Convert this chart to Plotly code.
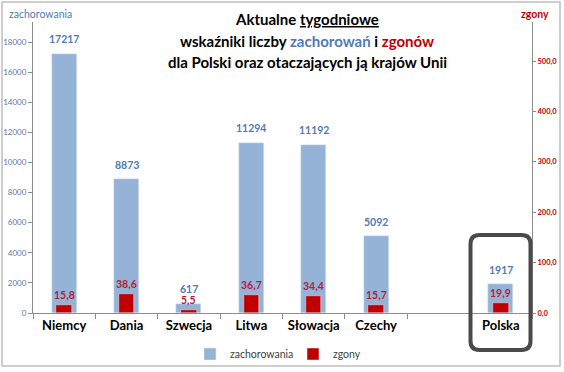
import plotly.graph_objects as go

# ---- data ----
countries = ["Niemcy", "Dania", "Szwecja", "Litwa", "Słowacja", "Czechy", " ", "Polska"]
cases = [17217, 8873, 617, 11294, 11192, 5092, None, 1917]
deaths = [15.8, 38.6, 5.5, 36.7, 34.4, 15.7, None, 19.9]
series_names = ["zachorowania", "zgony"]

case_text = ["" if v is None else f"{v:d}" for v in cases]
death_text = ["" if v is None else f"{v:.1f}".replace(".", ",") for v in deaths]

BLUE_BAR = "#95B3D7"
BLUE_TXT = "#4F7BB5"
RED_BAR = "#C00000"
RED_TXT = "#B51D3A"
FONT = "Lato, Carlito, Calibri, sans-serif"

W, H = 564, 372
L, R, T, B = 33, 32, 22, 59
PW, PH = W - L - R, H - T - B


def px(x):
    return (x - L) / PW


def py(y):
    return (H - B - y) / PH


fig = go.Figure()
fig.add_trace(go.Bar(
    x=countries, y=cases, name=series_names[0], marker_color=BLUE_BAR,
    width=0.4, yaxis="y",
))
fig.add_trace(go.Bar(
    x=countries, y=deaths, name=series_names[1], marker_color=RED_BAR,
    width=0.25, yaxis="y2",
))

annotations = []
# value labels, positioned from the data through the axes
for c, v, t in zip(countries, cases, case_text):
    if v is None:
        continue
    annotations.append(dict(
        x=c, y=v, xref="x", yref="y", text=f"<b>{t}</b>", showarrow=False,
        xanchor="center", yanchor="middle", yshift=14.5,
        font=dict(family=FONT, size=10.5, color=BLUE_TXT)))
for c, v, t in zip(countries, deaths, death_text):
    if v is None:
        continue
    annotations.append(dict(
        x=c, y=v, xref="x", yref="y2", text=f"<b>{t}</b>", showarrow=False,
        xanchor="center", yanchor="middle", yshift=10,
        font=dict(family=FONT, size=10.5, color=RED_TXT)))

# rounded box around Polska
x0, x1, y0, y1, r = px(470.5), px(530.5), py(235), py(350), 9
rx, ry = r / PW, r / PH
path = (f"M {x0+rx},{y0} L {x1-rx},{y0} Q {x1},{y0} {x1},{y0-ry} "
        f"L {x1},{y1+ry} Q {x1},{y1} {x1-rx},{y1} "
        f"L {x0+rx},{y1} Q {x0},{y1} {x0},{y1+ry} "
        f"L {x0},{y0-ry} Q {x0},{y0} {x0+rx},{y0} Z")

shapes = [
    dict(type="rect", xref="paper", yref="paper",
         x0=px(2), x1=px(560), y0=py(366), y1=py(2),
         line=dict(color="#BFBFBF", width=1.5), layer="below"),
    dict(type="path", xref="paper", yref="paper", path=path,
         line=dict(color="#4A4A4A", width=4)),
]

title_lines = [
    "<b>Aktualne <u>tygodniowe</u></b>",
    f"<b>wskaźniki liczby <span style='color:{BLUE_TXT}'>zachorowań</span> i "
    f"<span style='color:{RED_BAR}'>zgonów</span></b>",
    "<b>dla Polski oraz otaczających ją krajów Unii</b>",
]
title_y = [19, 41, 62]
annotations += [
    dict(text=t, xref="paper", yref="paper", x=px(307), y=py(yy),
         xanchor="center", yanchor="middle", showarrow=False,
         font=dict(family=FONT, size=15, color="#000000"))
    for t, yy in zip(title_lines, title_y)
]
annotations += [
    dict(text="zachorowania", xref="paper", yref="paper", x=px(40), y=py(14),
         xanchor="center", yanchor="middle", showarrow=False,
         font=dict(family=FONT, size=10.5, color=BLUE_TXT)),
    dict(text="<b>zgony</b>", xref="paper", yref="paper", x=px(535), y=py(14),
         xanchor="center", yanchor="middle", showarrow=False,
         font=dict(family=FONT, size=10.5, color=RED_BAR)),
]

fig.update_layout(
    width=W, height=H,
    margin=dict(l=L, r=R, t=T, b=B, pad=0, autoexpand=False),
    paper_bgcolor="white", plot_bgcolor="white",
    barmode="overlay", bargap=0,
    separators=", ",
    showlegend=True,
    legend=dict(orientation="h", x=px(293), xanchor="center", y=py(354),
                yanchor="middle", font=dict(family=FONT, size=10.5, color="#404040"),
                itemwidth=30, entrywidth=58, bgcolor="rgba(0,0,0,0)"),
    xaxis=dict(
        categoryorder="array", categoryarray=countries,
        showline=True, linecolor="#8C8C8C", linewidth=1,
        ticks="outside", tickson="boundaries", ticklen=5, tickcolor="#8C8C8C",
        tickangle=0, automargin=False,
        tickfont=dict(family=FONT, size=13, color="#000000", weight="bold"),
        showgrid=False, zeroline=False, fixedrange=True,
    ),
    yaxis=dict(
        range=[0, 19330], dtick=2000, tickformat="d", automargin=False,
        showline=True, linecolor="#8C8C8C", linewidth=1,
        ticks="outside", ticklen=4, tickcolor="#8C8C8C",
        tickfont=dict(family=FONT, size=8, color="#5A78A8"),
        showgrid=False, zeroline=False,
    ),
    yaxis2=dict(
        range=[0, 577.4], dtick=100, tickformat=".1f", overlaying="y", side="right",
        automargin=False,
        showline=True, linecolor="#8C8C8C", linewidth=1,
        ticks="outside", ticklen=3, tickcolor="#8C8C8C",
        tickfont=dict(family=FONT, size=7.5, color=RED_BAR, weight="bold"),
        showgrid=False, zeroline=False,
    ),
    shapes=shapes,
    annotations=annotations,
)

fig.write_html(
    "out.html",
    config={"displayModeBar": False},
    post_script="document.body.style.margin='0';document.body.style.overflow='hidden';",
)
